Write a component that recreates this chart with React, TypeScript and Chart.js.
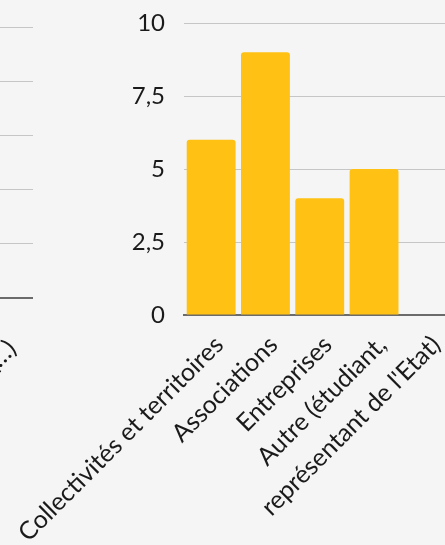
import React, { useEffect, useRef } from "react";
import { Chart, registerables } from "chart.js";

Chart.register(...registerables);

// Main chart data
const categories = [
  "Collectivités et territoires",
  "Associations",
  "Entreprises",
  "Autre (étudiant,",
  "représentant de l'Etat)",
];
const counts = [6, 9, 4, 5, 0];
const yTicks = [0, 2.5, 5, 7.5, 10];

// Neighbouring (clipped) chart data
const leftCategories = ["A", "B", "C", "D", "Autre (…)"];
const leftCounts = [4, 8, 6, 3, 0];
const leftTicks = [0, 2, 4, 6, 8, 10];

const FONT = "Lato, 'Open Sans', sans-serif";
const BAR = "#FFC113";
const GRID = "#c6c6c6";
const AXIS = "#6b6b6b";
const TEXT = "#1a1a1a";

function fmt(v: number | string) {
  return String(v).replace(".", ",");
}

function noPad(s: any) {
  s.paddingTop = 0;
  s.paddingBottom = 0;
  s.paddingLeft = 0;
  s.paddingRight = 0;
}

function makeOptions(
  ticks: number[],
  pad: { left: number; right: number; top: number; bottom: number },
  xHeight: number,
  xPadding: number,
  xOffset: number
): any {
  return {
    responsive: false,
    animation: false,
    layout: { padding: pad },
    plugins: { legend: { display: false }, tooltip: { enabled: false } },
    scales: {
      x: {
        grid: { display: false },
        border: { display: true, color: AXIS, width: 2 },
        ticks: {
          autoSkip: false,
          minRotation: 45,
          maxRotation: 45,
          padding: xPadding,
          labelOffset: xOffset,
          color: TEXT,
          font: { family: FONT, size: 25, lineHeight: 1.55 },
        },
        afterFit: (s: any) => {
          s.height = xHeight;
          noPad(s);
        },
      },
      y: {
        min: ticks[0],
        max: ticks[ticks.length - 1],
        afterBuildTicks: (s: any) => {
          s.ticks = ticks.map((v) => ({ value: v }));
        },
        ticks: {
          padding: 19,
          color: TEXT,
          font: { family: FONT, size: 24 },
          callback: (v: any) => fmt(v),
        },
        grid: { color: GRID, drawTicks: false },
        border: { display: false },
        afterFit: (s: any) => {
          s.width = 60;
          noPad(s);
        },
      },
    },
  };
}

export default function App() {
  const mainRef = useRef<HTMLCanvasElement>(null);
  const leftRef = useRef<HTMLCanvasElement>(null);

  useEffect(() => {
    const charts: Chart[] = [];
    if (leftRef.current) {
      charts.push(
        new Chart(leftRef.current, {
          type: "bar",
          data: {
            labels: leftCategories,
            datasets: [
              {
                data: leftCounts,
                backgroundColor: BAR,
                borderRadius: 3,
                categoryPercentage: 0.9,
                barPercentage: 1,
              },
            ],
          },
          options: makeOptions(leftTicks, { left: 30, right: 0, top: 27, bottom: 0 }, 545 - 298, 25, 6),
        })
      );
    }
    if (mainRef.current) {
      charts.push(
        new Chart(mainRef.current, {
          type: "bar",
          data: {
            labels: categories,
            datasets: [
              {
                data: counts,
                backgroundColor: BAR,
                borderRadius: 3,
                categoryPercentage: 0.9,
                barPercentage: 1,
              },
            ],
          },
          options: makeOptions(yTicks, { left: 124, right: 14.5, top: 23, bottom: 0 }, 545 - 315, 4, 8),
        })
      );
    }
    return () => charts.forEach((c) => c.destroy());
  }, []);

  return (
    <div
      style={{
        position: "absolute",
        left: 0,
        top: 0,
        width: 445,
        height: 545,
        overflow: "hidden",
        background: "#f5f5f5",
      }}
    >
      <canvas
        ref={leftRef}
        width={360}
        height={545}
        style={{ position: "absolute", left: 33 - 360, top: 0, width: 360, height: 545 }}
      />
      <canvas
        ref={mainRef}
        width={470}
        height={545}
        style={{ position: "absolute", left: 0, top: 0, width: 470, height: 545 }}
      />
    </div>
  );
}
